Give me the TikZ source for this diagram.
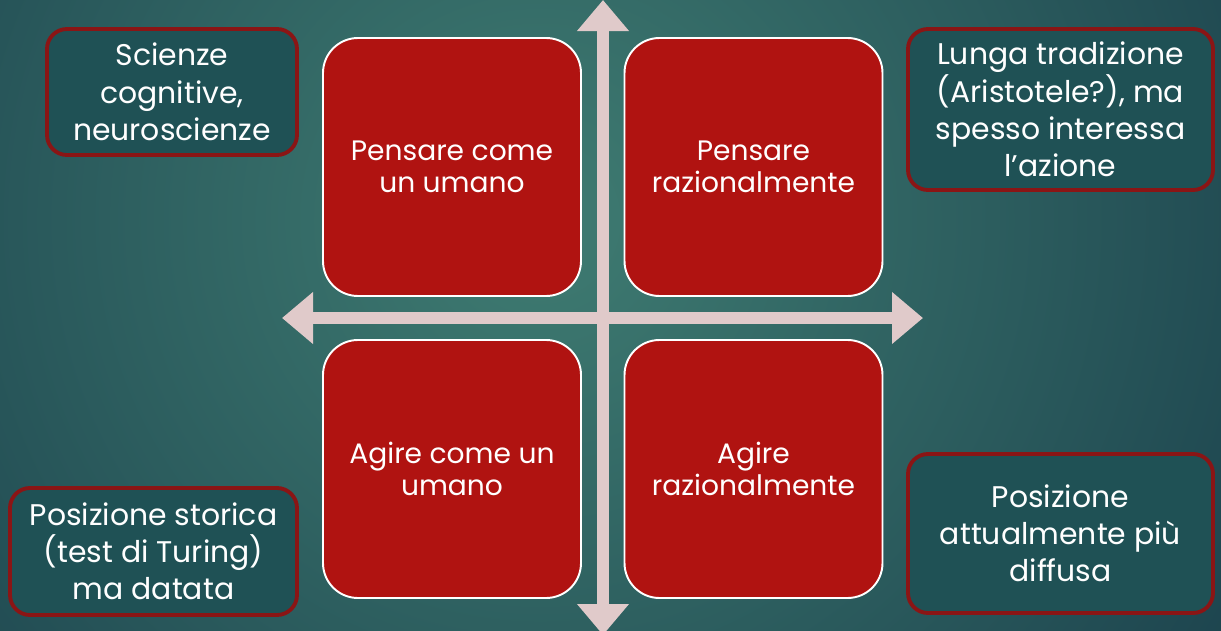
\documentclass[tikz,border=0pt]{standalone}
\usepackage{fontspec}
\setmainfont{Poppins}
\usepackage{tikz}
\usetikzlibrary{arrows.meta,positioning}
\definecolor{bglight}{HTML}{3F7C72}
\definecolor{bgdark}{HTML}{133444}
\definecolor{quadred}{HTML}{B01311}
\definecolor{notefill}{HTML}{1F5155}
\definecolor{noteline}{HTML}{8A1515}
\definecolor{crosspink}{HTML}{E0CACA}
\tikzset{
    quad/.style={draw=white, line width=1.1pt, fill=quadred, rounded corners=0.7cm,
        minimum width=5.16cm, minimum height=5.16cm, text=white, align=center,
        font=\fontsize{16}{18.2}\selectfont},
    note/.style={draw=noteline, line width=2.2pt, fill=notefill, rounded corners=0.4cm,
        text=white, align=center, inner sep=0pt,
        font=\fontsize{17}{21.2}\selectfont},
    axis/.style={crosspink, line width=0.24cm, {Triangle[width=1cm,length=0.62cm]}-{Triangle[width=1cm,length=0.62cm]}}
}

\begin{document}
\begin{tikzpicture}
    \useasboundingbox (0,0) rectangle (24.42,12.6);
    % background
    \begin{scope}
        \clip (0,0) rectangle (24.42,12.6);
        \fill[bgdark] (0,0) rectangle (24.42,12.6);
        \shade[inner color=bglight, outer color=bgdark] (10.8,8.2) circle (21cm);
    \end{scope}

    % cross
    \coordinate (north) at (12.06,12.6);
    \coordinate (south) at (12.06,-0.1);
    \coordinate (west) at (5.64,6.24);
    \coordinate (east) at (18.46,6.24);
    \draw[axis] (south) -- (north);
    \draw[axis] (west) -- (east);

    % quadrants
    \node[quad] (thinkhuman) at (9.04,9.26) {Pensare come\\un umano};
    \node[quad] (thinkrational) at (15.07,9.26) {Pensare\\razionalmente};
    \node[quad] (acthuman) at (9.04,3.22) {Agire come un\\umano};
    \node[quad] (actrational) at (15.07,3.22) {Agire\\razionalmente};

    % notes
    \node[note, minimum width=5.0cm, minimum height=2.52cm] (cognitive) at (3.44,10.76)
        {Scienze\\cognitive,\\neuroscienze};
    \node[note, minimum width=6.1cm, minimum height=3.22cm] (tradition) at (21.21,10.41)
        {Lunga tradizione\\(Aristotele?), ma\\spesso interessa\\l’azione};
    \node[note, minimum width=5.74cm, minimum height=2.54cm] (turing) at (3.07,1.57)
        {Posizione storica\\(test di Turing)\\ma datata};
    \node[note, minimum width=6.1cm, minimum height=3.18cm] (current) at (21.21,1.93)
        {Posizione\\attualmente più\\diffusa};
\end{tikzpicture}
\end{document}
